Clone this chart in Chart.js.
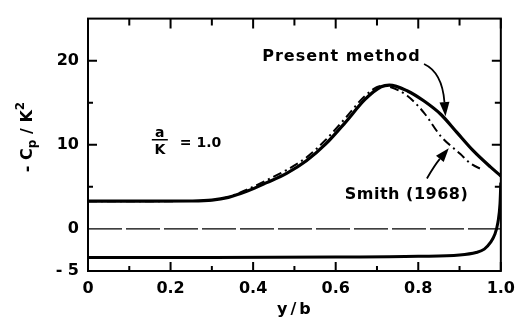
<!DOCTYPE html>
<html>
<head>
<meta charset="utf-8">
<script src="https://cdn.jsdelivr.net/npm/chart.js@4.4.0/dist/chart.umd.min.js"></script>
<style>
  html, body { margin: 0; padding: 0; background: #fff; }
</style>
</head>
<body>
<canvas id="cpChart" width="523" height="322"></canvas>
<script>
// values (x = y/b, y = -Cp/K^2)
var presentX = [0, 0.15, 0.25, 0.3, 0.34, 0.386, 0.433, 0.481, 0.529, 0.576, 0.624, 0.671, 0.71, 0.73, 0.774, 0.814, 0.855, 0.893, 0.933, 0.974, 1.0];
var presentY = [3.3, 3.3, 3.32, 3.42, 3.75, 4.5, 5.5, 6.6, 8.1, 10.1, 12.7, 15.4, 16.9, 17.1, 16.4, 15.2, 13.6, 11.5, 9.3, 7.4, 6.3];

var smithX = [0, 0.15, 0.25, 0.3, 0.34, 0.386, 0.433, 0.481, 0.529, 0.576, 0.624, 0.671, 0.71, 0.73, 0.774, 0.814, 0.855, 0.902, 0.926, 0.957];
var smithY = [3.3, 3.3, 3.32, 3.42, 3.8, 4.7, 5.8, 7.0, 8.5, 10.6, 13.2, 15.8, 17.0, 16.9, 15.8, 13.8, 11.0, 8.9, 7.8, 7.0];

var lowerX = [0, 0.3, 0.6, 0.8, 0.9, 0.94, 0.96, 0.975, 0.985, 0.993, 0.998, 1.0];
var lowerY = [-3.4, -3.4, -3.35, -3.25, -3.1, -2.8, -2.4, -1.6, -0.7, 0.8, 3.0, 5.5];

var zeroX = [0, 1];
var zeroY = [0, 0];

var xTickVals = [0, 0.2, 0.4, 0.6, 0.8, 1.0];
var xTickText = ['0', '0.2', '0.4', '0.6', '0.8', '1.0'];
var xMinorVals = [0.1, 0.3, 0.5, 0.7, 0.9];
var yTickVals = [-5, 0, 10, 20];
var yTickText = ['- 5', '0', '10', '20'];
var yMinorVals = [5, 15];

function pts(xs, ys) {
    return xs.map(function(x, i) { return { x: x, y: ys[i] }; });
}

var FONT = "'DejaVu Sans', sans-serif";

var decor = {
    id: 'decor',
    afterDatasetsDraw: function(chart) {
        var ctx = chart.ctx;
        var a = chart.chartArea;
        var xs = chart.scales.x, ys = chart.scales.y;
        ctx.save();
        ctx.strokeStyle = '#000';
        ctx.fillStyle = '#000';

        // frame
        ctx.lineWidth = 2;
        ctx.strokeRect(a.left, a.top, a.right - a.left, a.bottom - a.top);

        // inward ticks
        ctx.lineWidth = 2;
        ctx.beginPath();
        xTickVals.forEach(function(v) {
            var px = xs.getPixelForValue(v);
            ctx.moveTo(px, a.bottom); ctx.lineTo(px, a.bottom - 9);
            ctx.moveTo(px, a.top); ctx.lineTo(px, a.top + 10);
        });
        xMinorVals.forEach(function(v) {
            var px = xs.getPixelForValue(v);
            ctx.moveTo(px, a.bottom); ctx.lineTo(px, a.bottom - 5);
            ctx.moveTo(px, a.top); ctx.lineTo(px, a.top + 7);
        });
        [10, 20].forEach(function(v) {
            var py = ys.getPixelForValue(v);
            ctx.moveTo(a.left, py); ctx.lineTo(a.left + 9, py);
            ctx.moveTo(a.right, py); ctx.lineTo(a.right - 9, py);
        });
        yMinorVals.forEach(function(v) {
            var py = ys.getPixelForValue(v);
            ctx.moveTo(a.left, py); ctx.lineTo(a.left + 5, py);
            ctx.moveTo(a.right, py); ctx.lineTo(a.right - 6, py);
        });
        ctx.stroke();

        // curve labels
        ctx.font = 'bold 16px ' + FONT;
        ctx.textBaseline = 'middle';
        ctx.textAlign = 'left';
        ctx.letterSpacing = '1px';
        ctx.fillText('Present method', xs.getPixelForValue(0.422), ys.getPixelForValue(20.4));
        ctx.letterSpacing = '0.5px';
        ctx.fillText('Smith (1968)', xs.getPixelForValue(0.622), ys.getPixelForValue(4.0));
        ctx.letterSpacing = '0px';

        // parameter a/K = 1.0
        var fx = xs.getPixelForValue(0.174);
        var fy = ys.getPixelForValue(10.6);
        ctx.font = 'bold 14px ' + FONT;
        ctx.textAlign = 'center';
        ctx.textBaseline = 'alphabetic';
        ctx.fillText('a', fx, fy - 3);
        ctx.fillText('K', fx, fy + 14);
        ctx.lineWidth = 1.5;
        ctx.beginPath();
        ctx.moveTo(fx - 8, fy); ctx.lineTo(fx + 8, fy);
        ctx.stroke();
        ctx.textAlign = 'left';
        ctx.textBaseline = 'middle';
        ctx.fillText('= 1.0', fx + 20, fy + 4);

        // arrows
        function arrow(x0, y0, cx, cy, x1, y1) {
            var p0 = [xs.getPixelForValue(x0), ys.getPixelForValue(y0)];
            var pc = [xs.getPixelForValue(cx), ys.getPixelForValue(cy)];
            var p1 = [xs.getPixelForValue(x1), ys.getPixelForValue(y1)];
            var ang = Math.atan2(p1[1] - pc[1], p1[0] - pc[0]);
            var len = 14, half = 5;
            var bx = p1[0] - len * Math.cos(ang), by = p1[1] - len * Math.sin(ang);
            ctx.lineWidth = 1.8;
            ctx.beginPath();
            ctx.moveTo(p0[0], p0[1]);
            ctx.quadraticCurveTo(pc[0], pc[1], bx, by);
            ctx.stroke();
            ctx.beginPath();
            ctx.moveTo(p1[0], p1[1]);
            ctx.lineTo(bx + half * Math.sin(ang), by - half * Math.cos(ang));
            ctx.lineTo(bx - half * Math.sin(ang), by + half * Math.cos(ang));
            ctx.closePath();
            ctx.fill();
        }
        arrow(0.814, 19.6, 0.858, 18.6, 0.866, 13.4);
        arrow(0.821, 6.0, 0.84, 7.6, 0.874, 9.6);

        ctx.restore();
    },
    afterDraw: function(chart) {
        var ctx = chart.ctx;
        var a = chart.chartArea;
        ctx.save();
        ctx.fillStyle = '#000';

        // x title
        ctx.font = 'bold 16px ' + FONT;
        ctx.textAlign = 'center';
        ctx.textBaseline = 'alphabetic';
        ctx.letterSpacing = '3px';
        ctx.fillText('y/b', (a.left + a.right) / 2 + 1, 314);
        ctx.letterSpacing = '0px';

        // y title: - Cp / K^2 (rotated)
        ctx.translate(32, 137);
        ctx.rotate(-Math.PI / 2);
        var big = 'bold 16px ' + FONT, small = 'bold 12px ' + FONT;
        var parts = [
            { t: '- C', f: big, dy: 0 },
            { t: 'p', f: small, dy: 4 },
            { t: ' / K', f: big, dy: 0 },
            { t: '2', f: small, dy: -8 }
        ];
        var total = 0;
        parts.forEach(function(p) { ctx.font = p.f; p.w = ctx.measureText(p.t).width; total += p.w; });
        var u = -total / 2;
        ctx.textAlign = 'left';
        parts.forEach(function(p) {
            ctx.font = p.f;
            ctx.fillText(p.t, u, p.dy);
            u += p.w;
        });
        ctx.restore();
    }
};

var ctx = document.getElementById('cpChart').getContext('2d');
var cpChart = new Chart(ctx, {
    type: 'line',
    data: {
        datasets: [
            {
                label: 'Present method',
                data: pts(presentX, presentY),
                borderColor: '#000',
                borderWidth: 3.2,
                pointRadius: 0,
                cubicInterpolationMode: 'monotone'
            },
            {
                label: 'Smith (1968)',
                data: pts(smithX, smithY),
                borderColor: '#000',
                borderWidth: 2,
                borderDash: [9, 4, 2, 4],
                pointRadius: 0,
                cubicInterpolationMode: 'monotone'
            },
            {
                label: 'lower surface',
                data: pts(lowerX, lowerY),
                borderColor: '#000',
                borderWidth: 3,
                pointRadius: 0,
                cubicInterpolationMode: 'monotone'
            },
            {
                label: 'zero',
                data: pts(zeroX, zeroY),
                borderColor: '#000',
                borderWidth: 1.3,
                borderDash: [34, 4],
                pointRadius: 0
            }
        ]
    },
    options: {
        responsive: false,
        animation: false,
        layout: { padding: { top: 10, right: 15, left: 0, bottom: 0 } },
        plugins: {
            legend: { display: false },
            tooltip: { enabled: false }
        },
        scales: {
            x: {
                type: 'linear',
                min: 0,
                max: 1,
                grid: { display: false, drawTicks: false },
                border: { display: false },
                afterBuildTicks: function(scale) {
                    scale.ticks = xTickVals.map(function(v) { return { value: v }; });
                },
                afterFit: function(scale) { scale.height = 51; },
                ticks: {
                    color: '#000',
                    padding: 8,
                    maxRotation: 0,
                    font: { family: FONT, size: 16, weight: 'bold' },
                    callback: function(v, i) { return xTickText[i]; }
                }
            },
            y: {
                type: 'linear',
                min: -5,
                max: 25,
                grid: { display: false, drawTicks: false },
                border: { display: false },
                afterBuildTicks: function(scale) {
                    scale.ticks = yTickVals.map(function(v) { return { value: v }; });
                },
                afterFit: function(scale) { scale.width = 88; },
                ticks: {
                    color: '#000',
                    padding: 9,
                    font: { family: FONT, size: 16, weight: 'bold' },
                    callback: function(v, i) { return yTickText[i]; }
                }
            }
        }
    },
    plugins: [decor]
});
</script>
</body>
</html>
